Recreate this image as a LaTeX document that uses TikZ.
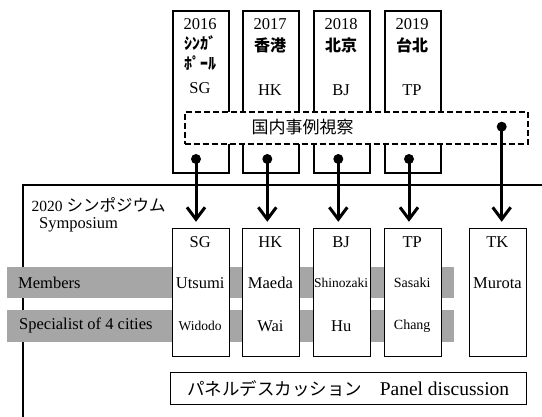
\documentclass[tikz,border=0pt]{standalone}
\usepackage{fontspec}
\setmainfont{Liberation Serif}
\newfontfamily\cjk{Noto Sans CJK JP}
\usetikzlibrary{arrows.meta,calc}
\definecolor{band}{RGB}{166,166,166}
\tikzset{
  topbox/.style={draw, line width=2pt, minimum width=56pt, minimum height=161.7pt, inner sep=0, anchor=north west},
  lowbox/.style={draw, fill=white, line width=1pt, minimum width=56.5pt, minimum height=127.5pt, inner sep=0, anchor=north west},
  bandbox/.style={fill=band, draw=none, inner sep=0, anchor=north west, minimum width=447pt, minimum height=31pt},
  lbl/.style={inner sep=0, font=\fontsize{16.5}{18}\selectfont},
  sml/.style={inner sep=0, font=\fontsize{13.5}{15}\selectfont},
  jlbl/.style={inner sep=0, font=\fontsize{16}{18}\selectfont\cjk\bfseries},
  arr/.style={line width=3pt, -{Straight Barb[length=12pt,width=18pt]}},
  dotc/.style={fill=black},
}
\begin{document}
\begin{tikzpicture}[x=1pt,y=-1pt]
\useasboundingbox (0,0) rectangle (542,417);
% symposium frame
\coordinate (fa) at (22.5,185);
\coordinate (fb) at (542,185);
\coordinate (fc) at (22.5,417);
\draw[line width=2pt] (fb) -- (fa) -- (fc);
% bands
\node[bandbox] (b1) at (6.9,267.3) {};
\node[bandbox, minimum height=32.2pt] (b2) at (6.9,309.7) {};
\node[lbl, anchor=west] (mem) at (18,282.5) {Members};
\node[lbl, anchor=west] (spc) at (19,325.8) {Specialist of 4 cities};
% lower boxes
\node[lowbox] (l1) at (172,228.3) {};
\node[lowbox] (l2) at (242.2,228.3) {};
\node[lowbox] (l3) at (313,228.3) {};
\node[lowbox] (l4) at (384,228.3) {};
\node[lowbox, minimum width=57pt] (l5) at (468.9,228.3) {};
\node[lbl] (h1) at (200.2,241.7) {SG};
\node[lbl] (h2) at (270.4,241.7) {HK};
\node[lbl] (h3) at (341.2,241.7) {BJ};
\node[lbl] (h4) at (412.2,241.7) {TP};
\node[lbl] (h5) at (497.4,241.7) {TK};
\node[lbl] (m1) at (200.2,283) {Utsumi};
\node[lbl] (m2) at (270.4,283) {Maeda};
\node[sml] (m3) at (341.2,283) {Shinozaki};
\node[lbl, font=\fontsize{14}{16}\selectfont] (m4) at (412.2,283) {Sasaki};
\node[lbl] (m5) at (497.4,283) {Murota};
\node[sml] (s1) at (200.2,326) {Widodo};
\node[lbl] (s2) at (270.4,326) {Wai};
\node[lbl] (s3) at (341.2,326) {Hu};
\node[sml, font=\fontsize{14}{16}\selectfont] (s4) at (412.2,326) {Chang};
% symposium title
\node[inner sep=0, anchor=west] (sym) at (31.5,205) {\fontsize{15.5}{18}\selectfont 2020 {\cjk\fontsize{16.5}{18}\selectfont シンポジウム}};
\node[lbl, anchor=west] (syme) at (39,225) {Symposium};
% panel discussion
\node[draw, line width=1pt, anchor=north west, minimum width=356.5pt, minimum height=32pt, inner sep=0] (pan) at (169.5,372.3) {};
\node[inner sep=0] (pant) at (pan.center) {{\cjk\fontsize{17.5}{18}\selectfont パネルデスカッション　}{\fontsize{19.5}{20}\selectfont Panel discussion}};
% top boxes
\node[topbox] (t1) at (172,10) {};
\node[topbox] (t2) at (242,10) {};
\node[topbox] (t3) at (313,10) {};
\node[topbox] (t4) at (384,10) {};
\node[lbl] (y1) at (200,24) {2016};
\node[jlbl] (j1a) at (200,43) {ｼﾝｶﾞ};
\node[jlbl] (j1b) at (200,63) {ﾎﾟｰﾙ};
\node[lbl] (c1) at (200,88) {SG};
\node[lbl] (y2) at (270,24) {2017};
\node[jlbl] (j2) at (270,45) {香港};
\node[lbl] (c2) at (270,90) {HK};
\node[lbl] (y3) at (341,24) {2018};
\node[jlbl] (j3) at (341,45) {北京};
\node[lbl] (c3) at (341,90) {BJ};
\node[lbl] (y4) at (412,24) {2019};
\node[jlbl] (j4) at (412,45) {台北};
\node[lbl] (c4) at (412,90) {TP};
% dashed inspection box
\node[draw, fill=white, line width=2pt, dash pattern=on 6pt off 3pt, anchor=north west, minimum width=343pt, minimum height=32pt, inner sep=0] (insp) at (183.5,111) {};
\node[inner sep=0, font=\fontsize{17}{18}\selectfont\cjk] (inspt) at (302.5,127.5) {国内事例視察};
% dots and arrows
\coordinate (d1) at (196,159);
\coordinate (d2) at (267.3,159);
\coordinate (d3) at (338.3,159);
\coordinate (d4) at (409,159);
\coordinate (d5) at (501.7,126.7);
\foreach \d/\l in {d1/l1,d2/l2,d3/l3,d4/l4,d5/l5}{
  \draw[arr, shorten >=6.5pt] (\d) -- (\d |- \l.north);
  \fill[dotc] (\d) circle (5);
}
\end{tikzpicture}
\end{document}
